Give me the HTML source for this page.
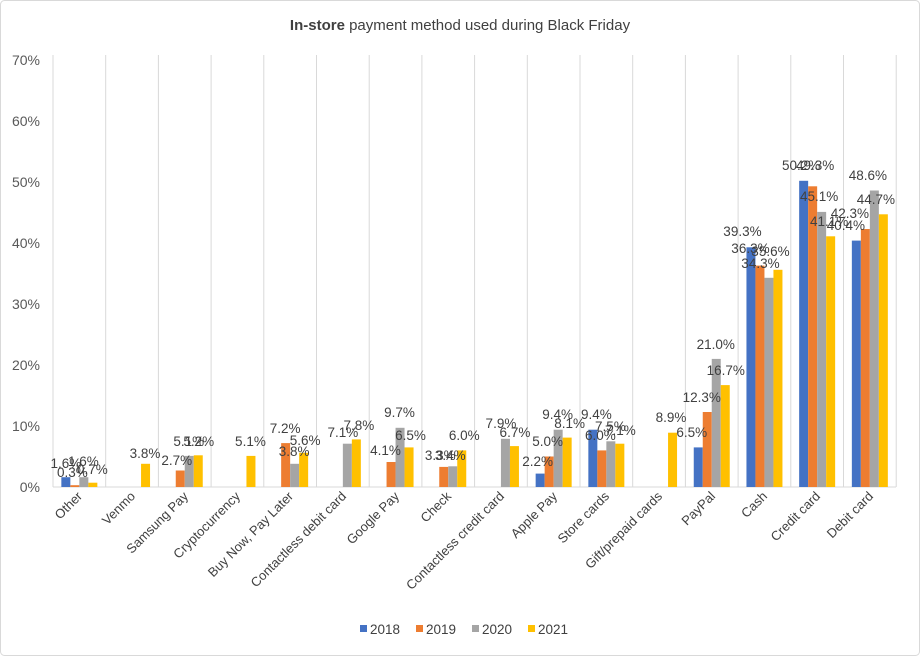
<!DOCTYPE html>
<html><head><meta charset="utf-8"><style>
body{margin:0;background:#fff}
svg{display:block;font-family:"Liberation Sans",sans-serif}
.l{font-size:13.5px;fill:#404040;text-anchor:middle}
.x{font-size:13px;fill:#404040;text-anchor:end}
.y{font-size:14px;fill:#595959;text-anchor:end}
</style></head><body>
<svg width="920" height="656" viewBox="0 0 920 656">
<rect x="0.5" y="0.5" width="919" height="655" rx="4" fill="#fff" stroke="#d9d9d9"/>
<text x="460" y="30" text-anchor="middle" font-size="15" fill="#404040"><tspan font-weight="bold">In-store</tspan> payment method used during Black Friday</text>
<g class="y">
<text x="40" y="492">0%</text><text x="40" y="431">10%</text><text x="40" y="370">20%</text><text x="40" y="309">30%</text><text x="40" y="248">40%</text><text x="40" y="187">50%</text><text x="40" y="126">60%</text><text x="40" y="65">70%</text>
</g>
<g stroke="#d9d9d9" stroke-width="1">
<line x1="53" y1="55" x2="53" y2="487"/><line x1="105.7" y1="55" x2="105.7" y2="487"/><line x1="158.4" y1="55" x2="158.4" y2="487"/><line x1="211.1" y1="55" x2="211.1" y2="487"/><line x1="263.8" y1="55" x2="263.8" y2="487"/><line x1="316.5" y1="55" x2="316.5" y2="487"/><line x1="369.2" y1="55" x2="369.2" y2="487"/><line x1="421.9" y1="55" x2="421.9" y2="487"/><line x1="474.6" y1="55" x2="474.6" y2="487"/><line x1="527.3" y1="55" x2="527.3" y2="487"/><line x1="580" y1="55" x2="580" y2="487"/><line x1="632.7" y1="55" x2="632.7" y2="487"/><line x1="685.4" y1="55" x2="685.4" y2="487"/><line x1="738.1" y1="55" x2="738.1" y2="487"/><line x1="790.8" y1="55" x2="790.8" y2="487"/><line x1="843.5" y1="55" x2="843.5" y2="487"/><line x1="896.2" y1="55" x2="896.2" y2="487"/>
<line x1="53" y1="487" x2="896" y2="487"/>
</g>
<!-- Other -->
<g transform="translate(61.35,0)"><rect x="0" y="477.2" width="9" height="9.8" fill="#4472c4"/><rect x="9" y="485.2" width="9" height="1.8" fill="#ed7d31"/><rect x="18" y="477.2" width="9" height="9.8" fill="#a5a5a5"/><rect x="27" y="482.7" width="9" height="4.3" fill="#ffc000"/>
<text class="l" x="4.5" y="468">1.6%</text><text class="l" x="11" y="477">0.3%</text><text class="l" x="22" y="466">1.6%</text><text class="l" x="31" y="474">0.7%</text></g>
<!-- Venmo -->
<g transform="translate(114.05,0)"><rect x="27" y="463.8" width="9" height="23.2" fill="#ffc000"/><text class="l" x="31" y="458">3.8%</text></g>
<!-- Samsung -->
<g transform="translate(166.75,0)"><rect x="9" y="470.5" width="9" height="16.5" fill="#ed7d31"/><rect x="18" y="455.9" width="9" height="31.1" fill="#a5a5a5"/><rect x="27" y="455.3" width="9" height="31.7" fill="#ffc000"/>
<text class="l" x="10" y="465">2.7%</text><text class="l" x="22" y="446">5.1%</text><text class="l" x="32" y="446">5.2%</text></g>
<!-- Crypto -->
<g transform="translate(219.45,0)"><rect x="27" y="455.9" width="9" height="31.1" fill="#ffc000"/><text class="l" x="31" y="446">5.1%</text></g>
<!-- BNPL -->
<g transform="translate(272.15,0)"><rect x="9" y="443.1" width="9" height="43.9" fill="#ed7d31"/><rect x="18" y="463.8" width="9" height="23.2" fill="#a5a5a5"/><rect x="27" y="452.8" width="9" height="34.2" fill="#ffc000"/>
<text class="l" x="13" y="433">7.2%</text><text class="l" x="22" y="456">3.8%</text><text class="l" x="33" y="445">5.6%</text></g>
<!-- Contactless debit -->
<g transform="translate(324.85,0)"><rect x="18" y="443.7" width="9" height="43.3" fill="#a5a5a5"/><rect x="27" y="439.4" width="9" height="47.6" fill="#ffc000"/>
<text class="l" x="18" y="437">7.1%</text><text class="l" x="34" y="430">7.8%</text></g>
<!-- Google -->
<g transform="translate(377.55,0)"><rect x="9" y="462" width="9" height="25" fill="#ed7d31"/><rect x="18" y="427.8" width="9" height="59.2" fill="#a5a5a5"/><rect x="27" y="447.4" width="9" height="39.6" fill="#ffc000"/>
<text class="l" x="8" y="455">4.1%</text><text class="l" x="22" y="417">9.7%</text><text class="l" x="33" y="440">6.5%</text></g>
<!-- Check -->
<g transform="translate(430.25,0)"><rect x="9" y="466.9" width="9" height="20.1" fill="#ed7d31"/><rect x="18" y="466.3" width="9" height="20.7" fill="#a5a5a5"/><rect x="27" y="450.4" width="9" height="36.6" fill="#ffc000"/>
<text class="l" x="10" y="460">3.3%</text><text class="l" x="20" y="460">3.4%</text><text class="l" x="34" y="440">6.0%</text></g>
<!-- Contactless credit -->
<g transform="translate(482.95,0)"><rect x="18" y="438.8" width="9" height="48.2" fill="#a5a5a5"/><rect x="27" y="446.1" width="9" height="40.9" fill="#ffc000"/>
<text class="l" x="18" y="428">7.9%</text><text class="l" x="32" y="437">6.7%</text></g>
<!-- Apple -->
<g transform="translate(535.65,0)"><rect x="0" y="473.6" width="9" height="13.4" fill="#4472c4"/><rect x="9" y="456.5" width="9" height="30.5" fill="#ed7d31"/><rect x="18" y="429.7" width="9" height="57.3" fill="#a5a5a5"/><rect x="27" y="437.6" width="9" height="49.4" fill="#ffc000"/>
<text class="l" x="2" y="466">2.2%</text><text class="l" x="12" y="446">5.0%</text><text class="l" x="22" y="419">9.4%</text><text class="l" x="34" y="428">8.1%</text></g>
<!-- Store -->
<g transform="translate(588.35,0)"><rect x="0" y="429.7" width="9" height="57.3" fill="#4472c4"/><rect x="9" y="450.4" width="9" height="36.6" fill="#ed7d31"/><rect x="18" y="441.3" width="9" height="45.7" fill="#a5a5a5"/><rect x="27" y="443.7" width="9" height="43.3" fill="#ffc000"/>
<text class="l" x="8" y="419">9.4%</text><text class="l" x="12" y="440">6.0%</text><text class="l" x="22" y="431">7.5%</text><text class="l" x="32" y="435">7.1%</text></g>
<!-- Gift -->
<g transform="translate(641.05,0)"><rect x="27" y="432.7" width="9" height="54.3" fill="#ffc000"/><text class="l" x="30" y="422">8.9%</text></g>
<!-- PayPal -->
<g transform="translate(693.75,0)"><rect x="0" y="447.4" width="9" height="39.6" fill="#4472c4"/><rect x="9" y="412" width="9" height="75" fill="#ed7d31"/><rect x="18" y="358.9" width="9" height="128.1" fill="#a5a5a5"/><rect x="27" y="385.1" width="9" height="101.9" fill="#ffc000"/>
<text class="l" x="-2" y="437">6.5%</text><text class="l" x="8" y="402">12.3%</text><text class="l" x="22" y="349">21.0%</text><text class="l" x="32" y="375">16.7%</text></g>
<!-- Cash -->
<g transform="translate(746.45,0)"><rect x="0" y="247.3" width="9" height="239.7" fill="#4472c4"/><rect x="9" y="265.6" width="9" height="221.4" fill="#ed7d31"/><rect x="18" y="277.8" width="9" height="209.2" fill="#a5a5a5"/><rect x="27" y="269.8" width="9" height="217.2" fill="#ffc000"/>
<text class="l" x="-4" y="236">39.3%</text><text class="l" x="4" y="253">36.3%</text><text class="l" x="14" y="268">34.3%</text><text class="l" x="24" y="256">35.6%</text></g>
<!-- Credit -->
<g transform="translate(799.15,0)"><rect x="0" y="180.8" width="9" height="306.2" fill="#4472c4"/><rect x="9" y="186.3" width="9" height="300.7" fill="#ed7d31"/><rect x="18" y="211.9" width="9" height="275.1" fill="#a5a5a5"/><rect x="27" y="236.3" width="9" height="250.7" fill="#ffc000"/>
<text class="l" x="2" y="170">50.2%</text><text class="l" x="16" y="170">49.3%</text><text class="l" x="20" y="201">45.1%</text><text class="l" x="30" y="226">41.1%</text></g>
<!-- Debit -->
<g transform="translate(851.85,0)"><rect x="0" y="240.6" width="9" height="246.4" fill="#4472c4"/><rect x="9" y="229" width="9" height="258" fill="#ed7d31"/><rect x="18" y="190.5" width="9" height="296.5" fill="#a5a5a5"/><rect x="27" y="214.3" width="9" height="272.7" fill="#ffc000"/>
<text class="l" x="-6" y="230">40.4%</text><text class="l" x="-2" y="218">42.3%</text><text class="l" x="16" y="180">48.6%</text><text class="l" x="24" y="204">44.7%</text></g>
<!-- x labels -->
<g class="x">
<text transform="translate(83,497) rotate(-45)">Other</text>
<text transform="translate(136,497) rotate(-45)">Venmo</text>
<text transform="translate(189,497) rotate(-45)">Samsung Pay</text>
<text transform="translate(241,497) rotate(-45)">Cryptocurrency</text>
<text transform="translate(294,497) rotate(-45)">Buy Now, Pay Later</text>
<text transform="translate(347,497) rotate(-45)">Contactless debit card</text>
<text transform="translate(400,497) rotate(-45)">Google Pay</text>
<text transform="translate(452,497) rotate(-45)">Check</text>
<text transform="translate(505,497) rotate(-45)">Contactless credit card</text>
<text transform="translate(558,497) rotate(-45)">Apple Pay</text>
<text transform="translate(610,497) rotate(-45)">Store cards</text>
<text transform="translate(663,497) rotate(-45)">Gift/prepaid cards</text>
<text transform="translate(716,497) rotate(-45)">PayPal</text>
<text transform="translate(768,497) rotate(-45)">Cash</text>
<text transform="translate(821,497) rotate(-45)">Credit card</text>
<text transform="translate(874,497) rotate(-45)">Debit card</text>
</g>
<!-- legend -->
<g font-size="13.5" fill="#404040">
<rect x="360" y="625" width="7" height="7" fill="#4472c4"/><text x="370" y="634">2018</text>
<rect x="416" y="625" width="7" height="7" fill="#ed7d31"/><text x="426" y="634">2019</text>
<rect x="472" y="625" width="7" height="7" fill="#a5a5a5"/><text x="482" y="634">2020</text>
<rect x="528" y="625" width="7" height="7" fill="#ffc000"/><text x="538" y="634">2021</text>
</g>
</svg>
</body></html>
